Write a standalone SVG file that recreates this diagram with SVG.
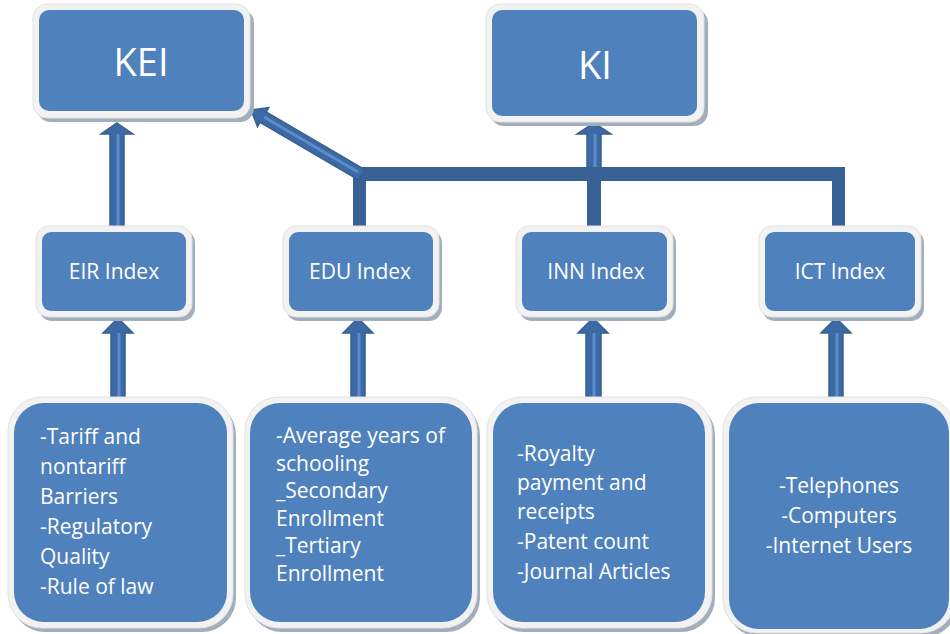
<svg xmlns="http://www.w3.org/2000/svg" width="950" height="634" viewBox="0 0 950 634">
<style>
.sh{fill:#A3AEBD}
.fr{fill:#F2F2F2;stroke:#E2E2E2;stroke-width:1}
.bx{fill:#4F81BD}
.t{font-family:"Open Sans","Noto Sans","Liberation Sans",sans-serif;fill:#FFFFFF;font-size:21px}
.c{text-anchor:middle}
.big{font-size:38px}
.arr{fill:#3D6AA4;stroke:#36608F;stroke-width:1.5}
.str{stroke:#5B8DCC;stroke-width:3;fill:none}
.bar{fill:#386196}
</style>
<rect width="950" height="634" fill="#FFFFFF"/>

<g id="connectors">
  <!-- bar connectors -->
  <rect class="bar" x="353" y="167" width="492" height="14"/>
  <rect class="bar" x="353" y="167" width="13" height="59"/>
  <rect class="bar" x="587" y="167" width="14" height="62"/>
  <rect class="bar" x="832" y="167" width="13" height="59"/>
  <!-- diagonal arrow to KEI -->
  <polygon class="arr" points="251,110 268.7,107.6 266.1,112 365,169.8 359,180.2 260.1,122.3 257.5,126.6"/>
  <line class="str" x1="264" y1="117" x2="358" y2="172"/>
  <!-- arrow INN/bar to KI -->
  <polygon class="arr" points="594,123 611,134 601,134 601,168 587,168 587,134 577,134"/>
  <line class="str" x1="595" y1="134" x2="595" y2="167"/>
  <!-- EIR to KEI -->
  <polygon class="arr" points="117,123 133,134 124,134 124,228 110,228 110,134 101,134"/>
  <line class="str" x1="118" y1="134" x2="118" y2="227"/>
  <!-- bottom to index arrows -->
  <polygon class="arr" points="118,318 133,333 125,333 125,398 111,398 111,333 103,333"/>
  <line class="str" x1="119" y1="333" x2="119" y2="397"/>
  <polygon class="arr" points="358,318 373,333 365,333 365,398 351,398 351,333 343,333"/>
  <line class="str" x1="359" y1="333" x2="359" y2="397"/>
  <polygon class="arr" points="593,318 608,333 601,333 601,398 586,398 586,333 578,333"/>
  <line class="str" x1="594" y1="333" x2="594" y2="397"/>
  <polygon class="arr" points="836,318 851,333 843,333 843,398 829,398 829,333 821,333"/>
  <line class="str" x1="837" y1="333" x2="837" y2="397"/>
</g>

<g id="KEI">
  <rect class="sh" x="37" y="9" width="217" height="113" rx="14"/>
  <rect class="fr" x="33" y="4" width="217" height="114" rx="14"/>
  <rect class="bx" x="39" y="10" width="205" height="101" rx="10"/>
  <text class="t c big" x="141" y="76">KEI</text>
</g>
<g id="KI">
  <rect class="sh" x="490" y="9" width="218" height="117" rx="14"/>
  <rect class="fr" x="486" y="4" width="218" height="118" rx="14"/>
  <rect class="bx" x="492" y="10" width="205" height="106" rx="10"/>
  <text class="t c big" x="595" y="79">KI</text>
</g>

<g id="EIR">
  <rect class="sh" x="39" y="230" width="156" height="91" rx="13"/>
  <rect class="fr" x="36" y="226" width="156" height="91" rx="13"/>
  <rect class="bx" x="42" y="232" width="144" height="79" rx="9"/>
  <text class="t c" x="114" y="279">EIR Index</text>
</g>
<g id="EDU">
  <rect class="sh" x="286" y="230" width="156" height="91" rx="13"/>
  <rect class="fr" x="283" y="226" width="156" height="91" rx="13"/>
  <rect class="bx" x="289" y="232" width="144" height="79" rx="9"/>
  <text class="t c" x="360" y="279">EDU Index</text>
</g>
<g id="INN">
  <rect class="sh" x="519" y="230" width="157" height="91" rx="13"/>
  <rect class="fr" x="516" y="226" width="157" height="91" rx="13"/>
  <rect class="bx" x="522" y="232" width="145" height="79" rx="9"/>
  <text class="t c" x="596" y="279">INN Index</text>
</g>
<g id="ICT">
  <rect class="sh" x="762" y="230" width="162" height="91" rx="13"/>
  <rect class="fr" x="759" y="226" width="162" height="91" rx="13"/>
  <rect class="bx" x="765" y="232" width="150" height="79" rx="9"/>
  <text class="t c" x="840" y="279">ICT Index</text>
</g>

<g id="EIR-items">
  <rect class="sh" x="11" y="401" width="225" height="231" rx="34"/>
  <rect class="fr" x="8" y="397" width="225" height="231" rx="34"/>
  <rect class="bx" x="14" y="403" width="213" height="219" rx="30"/>
  <text class="t" x="40" y="444">-Tariff and</text>
  <text class="t" x="40" y="474">nontariff</text>
  <text class="t" x="40" y="504">Barriers</text>
  <text class="t" x="40" y="534">-Regulatory</text>
  <text class="t" x="40" y="564">Quality</text>
  <text class="t" x="40" y="594">-Rule of law</text>
</g>
<g id="EDU-items">
  <rect class="sh" x="248" y="401" width="232" height="231" rx="34"/>
  <rect class="fr" x="245" y="397" width="232" height="231" rx="34"/>
  <rect class="bx" x="250" y="403" width="222" height="219" rx="30"/>
  <text class="t" x="276" y="443">-Average years of</text>
  <text class="t" x="276" y="471">schooling</text>
  <text class="t" x="276" y="498">_Secondary</text>
  <text class="t" x="276" y="526">Enrollment</text>
  <text class="t" x="276" y="553">_Tertiary</text>
  <text class="t" x="276" y="581">Enrollment</text>
</g>
<g id="INN-items">
  <rect class="sh" x="490" y="401" width="225" height="231" rx="34"/>
  <rect class="fr" x="487" y="397" width="225" height="231" rx="34"/>
  <rect class="bx" x="493" y="403" width="212" height="219" rx="30"/>
  <text class="t" x="517" y="461">-Royalty</text>
  <text class="t" x="517" y="490">payment and</text>
  <text class="t" x="517" y="519">receipts</text>
  <text class="t" x="517" y="549">-Patent count</text>
  <text class="t" x="517" y="579">-Journal Articles</text>
</g>
<g id="ICT-items">
  <rect class="sh" x="726" y="401" width="232" height="236" rx="34"/>
  <rect class="fr" x="723" y="397" width="232" height="236" rx="34"/>
  <rect class="bx" x="729" y="403" width="220" height="226" rx="30"/>
  <text class="t c" x="839" y="493">-Telephones</text>
  <text class="t c" x="839" y="523">-Computers</text>
  <text class="t c" x="839" y="553">-Internet Users</text>
</g>
</svg>
